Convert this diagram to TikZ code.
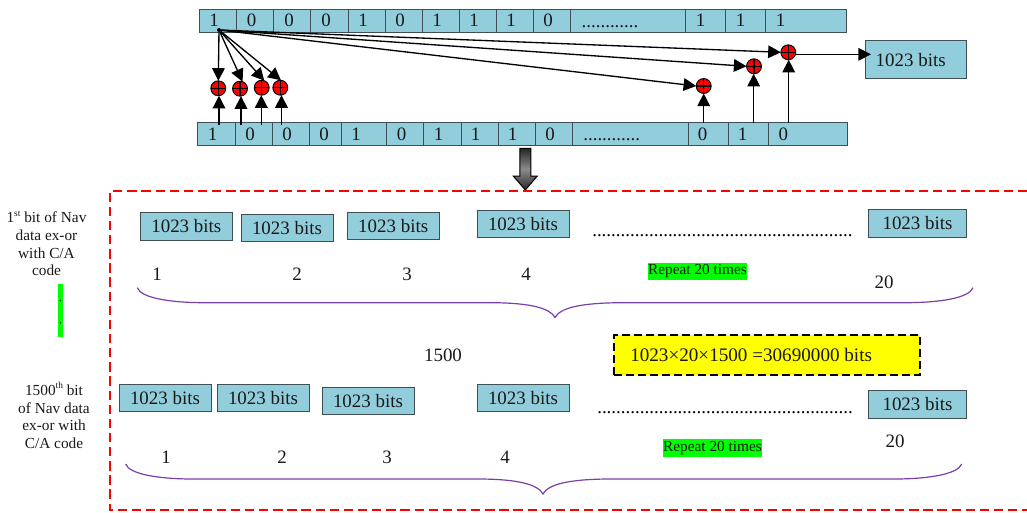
\documentclass[tikz,border=0pt]{standalone}
\usepackage{fontspec}
\setmainfont{Liberation Serif}
\usetikzlibrary{arrows.meta}
\definecolor{cellblue}{HTML}{92CDDC}
\definecolor{celledge}{HTML}{3F4F55}
\definecolor{bracepurple}{HTML}{7A3FA8}
\definecolor{tagyellow}{RGB}{255,255,0}
\newcommand{\supr}[1]{\raisebox{0.42em}{\fontsize{7}{7}\selectfont #1}}
\tikzset{
  cellbox/.style={draw=celledge,fill=cellblue,line width=0.75pt,inner sep=0pt,outer sep=0pt,anchor=north west},
  bitslabel/.style={font=\fontsize{14.2}{16}\selectfont,inner sep=0pt,text=black!90},
  bitsbox/.style={draw=celledge,fill=cellblue,line width=0.75pt,inner sep=0pt,outer sep=0pt,minimum width=69pt,minimum height=20.6pt,font=\fontsize{14.2}{16}\selectfont,text=black!90},
  xorc/.style={circle,draw=black,fill=red,line width=0.7pt,minimum size=11.2pt,inner sep=0pt,outer sep=0pt,
    path picture={\draw[black,line width=0.85pt] (path picture bounding box.north) -- (path picture bounding box.south) (path picture bounding box.west) -- (path picture bounding box.east);}},
  feed/.style={draw=black,line width=1pt,-{Triangle[length=9.5pt,width=9.5pt]},shorten >=0pt},
  purplebrace/.style={draw=bracepurple,line width=0.9pt},
  sidetext/.style={font=\fontsize{11.5}{13.3}\selectfont,align=center,inner sep=0pt,text=black!90},
  greentag/.style={fill=green,font=\fontsize{11.5}{12}\selectfont,inner sep=0pt,minimum width=74.5pt,minimum height=13.2pt,text=black!90},
  dotrow/.style={font=\fontsize{14.2}{16}\selectfont,inner sep=0pt,anchor=base west},
}
\begin{document}
\begin{tikzpicture}[x=0.75pt,y=-0.75pt]
\useasboundingbox (0,0) rectangle (1027,512);
% top register
\foreach \n/\a/\b/\tx/\ty/\s in {1/199/236.7/214/20.7/1,2/236.7/273.7/251.7/20.7/0,3/273.7/310.7/289/20.7/0,4/310.7/348/326/20.7/0,5/348/385.3/363/20.7/1,6/385.3/422/400/20.7/0,7/422/459/437/20.7/1,8/459/496/474/20.7/1,9/496/533/511/20.7/1,10/533/570/548/20.7/0,11/570/685.7/610/26.5/{............},12/685.7/725.3/700.7/20.7/1,13/725.3/765.7/740.7/20.7/1,14/765.7/846/780.7/20.7/1}{
  \path[cellbox] (\a,9) rectangle (\b,32);
  \node[bitslabel] (t\n) at (\tx,\ty) {\s};
}
% bottom register
\foreach \n/\a/\b/\tx/\ty/\s in {1/197.3/235/212.7/134/1,2/235/272.3/250/134/0,3/272.3/309.3/287/134/0,4/309.3/341.7/324/134/0,5/341.7/386.7/356/134/1,6/386.7/423.7/401.7/134/0,7/423.7/461/438.7/134/1,8/461/498.3/475.7/134/1,9/498.3/535.3/512.7/134/1,10/535.3/572.3/550/134/0,11/572.3/688/611.7/140/{............},12/688/728/702.7/134/0,13/728/768.3/742.7/134/1,14/768.3/847.7/783.3/134/0}{
  \path[cellbox] (\a,122) rectangle (\b,145.3);
  \node[bitslabel] (b\n) at (\tx,\ty) {\s};
}
% hub and xor gates
\node[circle,fill=black,minimum size=3pt,inner sep=0pt] (hub) at (219,30) {};
\node[xorc] (x1) at (218.3,88.3) {};
\node[xorc] (x2) at (240,88.7) {};
\node[xorc] (x3) at (261.7,87.7) {};
\node[xorc] (x4) at (280.3,87.7) {};
\node[xorc] (x5) at (703.7,86) {};
\node[xorc] (x6) at (754,66.3) {};
\node[xorc] (x7) at (788.3,52.3) {};
\foreach \k/\ang in {1/90,2/70,3/70,4/85}{ \draw[feed] (hub) -- (x\k.\ang); }
\foreach \k/\ang in {5/180,6/180,7/180}{ \draw[feed] (hub) -- (x\k.\ang); }
\foreach \k/\ux in {1/219,2/241,3/261.3,4/281.5}{
  \coordinate (u\k) at (\ux,125);
  \draw[feed] (u\k) -- (u\k |- x\k.south);
}
\foreach \k/\ux in {5/703.7,6/753.7,7/788.7}{
  \coordinate (u\k) at (\ux,123);
  \draw[feed] (u\k) -- (u\k |- x\k.south);
}
% output
\node[bitsbox,minimum width=76pt,minimum height=28.3pt] (out) at (916,59.8) {\hspace*{-8pt}\raisebox{-1pt}{1023 bits}};
\coordinate (outin) at (871,54.3);
\draw[feed] (x7.east |- outin) -- (outin);
% big arrow
\coordinate (bigtop) at (525.3,148.3);
\coordinate (bigtip) at (525.3,190);
\shade[top color=black!85,bottom color=black!85,middle color=black!45,draw=black,line width=0.75pt]
 (bigtop) ++(-5.5,0) -- ++(0,27.7) -- ++(-6.5,0) -- (bigtip) -- ++(12,-14) -- ++(-6.5,0) -- ++(0,-27.7) -- cycle;
% dashed frame
\draw[red,line width=1.6pt,dash pattern=on 7pt off 3.6pt] (1027,191) -- (110,191) -- (110,510) -- (1027,510);
% first row boxes
\node[bitsbox] (r1) at (186.3,226.3) {1023 bits};
\node[bitsbox] (r2) at (287,228) {1023 bits};
\node[bitsbox] (r3) at (393.2,226) {1023 bits};
\node[bitsbox] (r4) at (523,224) {1023 bits};
\node[bitsbox,minimum width=74pt] (r5) at (917.5,223.5) {1023 bits};
\node[dotrow] (d1) at (592,236.5) {.......................................................};
\node at (157,274) [bitslabel] (n1) {1};
\node at (297,274) [bitslabel] (n2) {2};
\node at (407,274) [bitslabel] (n3) {3};
\node at (526,274) [bitslabel] (n4) {4};
\node at (884,282) [bitslabel] (n5) {20};
\node[greentag] (rep1) at (697.5,271.5) {Repeat 20 times};
\coordinate (bl1) at (137.3,287.7);
\coordinate (bt1) at (555,317.5);
\coordinate (br1) at (973,287.7);
\draw[purplebrace] (bl1) .. controls (141,298) and (170,302.7) .. (205,302.7) -- (493,302.7) .. controls (530,303) and (550,308) .. (bt1) .. controls (560,308) and (580,303) .. (620,302.7) -- (905,302.7) .. controls (940,302.7) and (969,298) .. (br1);
% middle
\node[bitslabel] (mid) at (443,355) {1500};
\node[draw=black,fill=tagyellow,line width=1.4pt,dash pattern=on 6pt off 3pt,minimum width=229.5pt,minimum height=30pt,inner sep=0pt] (tot) at (767,355) {};
\node[bitslabel,anchor=west,font=\fontsize{14.35}{16}\selectfont] (tott) at (630,355) {1023×20×1500 =30690000 bits};
% second row boxes
\node[bitsbox] (s1) at (165,398) {1023 bits};
\node[bitsbox] (s2) at (263,398) {1023 bits};
\node[bitsbox] (s3) at (368,401) {1023 bits};
\node[bitsbox] (s4) at (523,398) {1023 bits};
\node[bitsbox,minimum width=74pt] (s5) at (917.5,404.5) {1023 bits};
\node[dotrow] (d2) at (597,413.5) {......................................................};
\node at (166,457) [bitslabel] (m1) {1};
\node at (282,457) [bitslabel] (m2) {2};
\node at (387,457) [bitslabel] (m3) {3};
\node at (505,457) [bitslabel] (m4) {4};
\node at (895,441) [bitslabel] (m5) {20};
\node[greentag] (rep2) at (712.5,448) {Repeat 20 times};
\coordinate (bl2) at (125.7,464);
\coordinate (bt2) at (543,494);
\coordinate (br2) at (961.7,464);
\draw[purplebrace] (bl2) .. controls (129,474) and (158,479) .. (193,479) -- (481,479) .. controls (518,479.3) and (538,484.5) .. (bt2) .. controls (548,484.5) and (568,479.3) .. (608,479) -- (894,479) .. controls (929,479) and (958,474) .. (br2);
% side text
\node[sidetext] (side1) at (46.5,243.5) {1\supr{st} bit of Nav\\data ex-or\\with C/A\\code};
\node[sidetext] (side2) at (54,415.5) {1500\supr{th} bit\\of Nav data\\ex-or with\\C/A code};
\node[fill=green,minimum width=3.8pt,minimum height=39.8pt,inner sep=0pt] (bar) at (60.3,310.2) {};
\fill[black] (60.3,300.5) circle (0.6pt) (60.3,322.8) circle (0.6pt);
\end{tikzpicture}
\end{document}
